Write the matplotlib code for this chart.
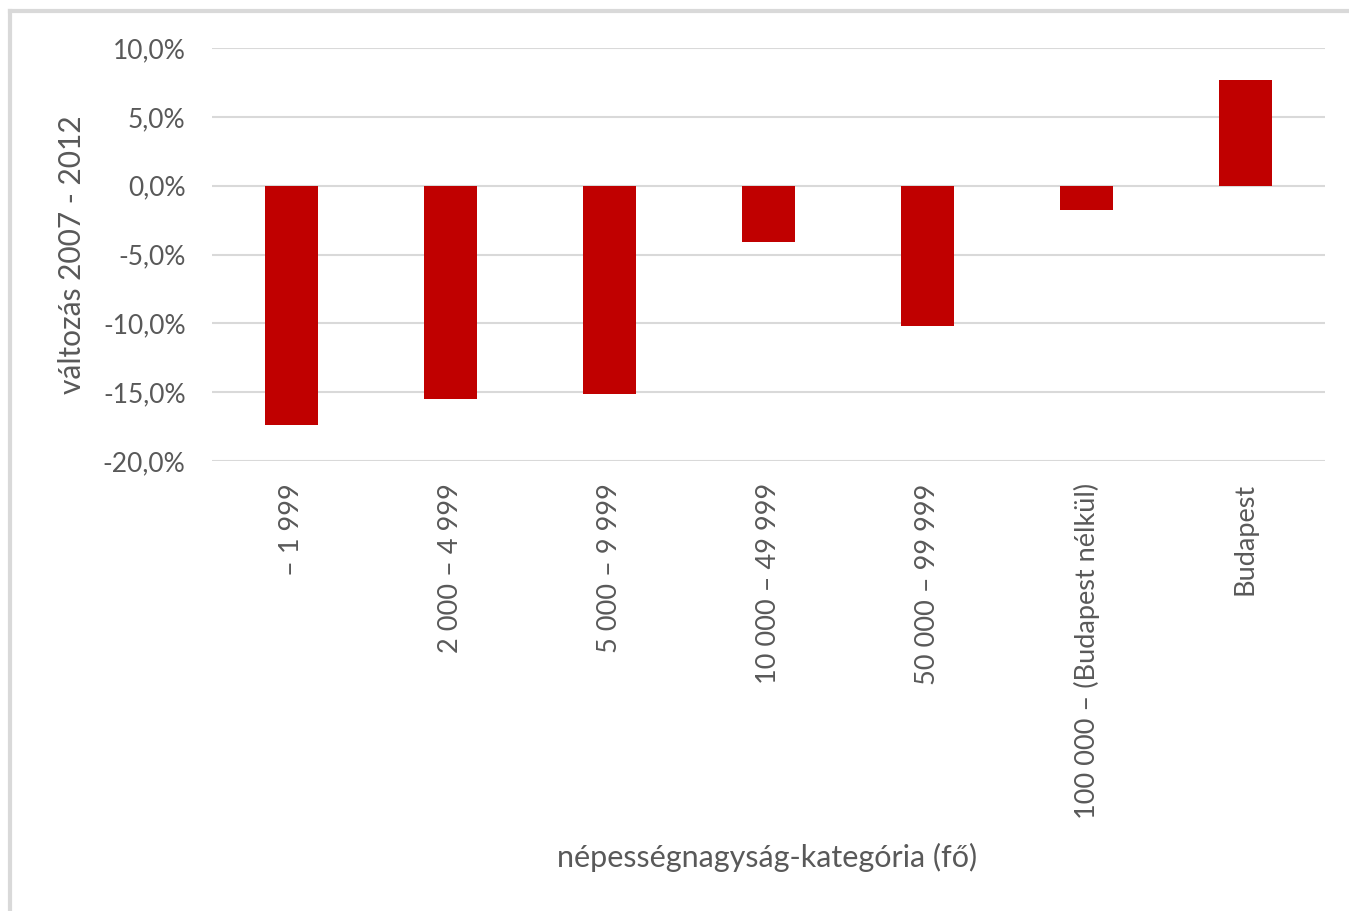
import matplotlib
matplotlib.use('Agg')
import matplotlib.pyplot as plt
from matplotlib.ticker import FuncFormatter
from matplotlib.lines import Line2D

plt.rcParams['font.family'] = ['Lato', 'DejaVu Sans']

# adatok
kategoriak = ['– 1 999', '2 000 – 4 999', '5 000 – 9 999', '10 000 – 49 999',
              '50 000 – 99 999', '100 000 – (Budapest nélkül)', 'Budapest']
valtozas = [-17.4, -15.5, -15.1, -4.1, -10.2, -1.8, 7.7]
y_ticks = [-20, -15, -10, -5, 0, 5, 10]

szoveg_szin = '#595959'
racs_szin = '#d9d9d9'

fig = plt.figure(figsize=(13.49, 9.11), dpi=100)
ax = fig.add_axes([212 / 1349, 1 - 461 / 911, (1325 - 212) / 1349, (461 - 48) / 911])

x = range(len(kategoriak))
ax.bar(x, valtozas, width=0.33, color='#C00000', zorder=3)

ax.set_xlim(-0.5, len(kategoriak) - 0.5)
ax.set_ylim(-20, 10)
ax.set_yticks(y_ticks)
ax.yaxis.set_major_formatter(FuncFormatter(lambda v, p: f'{v:.1f}%'.replace('.', ',')))
ax.grid(axis='y', color=racs_szin, linewidth=1.5, zorder=0)
ax.set_xticks(list(x))
ax.set_xticklabels(kategoriak, rotation=90, va='top', ha='center')
for s in ax.spines.values():
    s.set_visible(False)
ax.tick_params(axis='both', length=0, colors=szoveg_szin)
ax.tick_params(axis='x', pad=16, labelsize=19.5)
ax.tick_params(axis='y', pad=19, labelsize=19)

ax.set_ylabel('változás 2007 - 2012', fontsize=21.5, color=szoveg_szin)
ax.yaxis.set_label_coords(-0.113, 0.5)
fig.text(767 / 1349, 1 - 857 / 911, 'népességnagyság-kategória (fő)', fontsize=22,
         color=szoveg_szin, ha='center', va='center')

# halvány keret a kép bal és felső szélén
fig.add_artist(Line2D([10 / 1349, 10 / 1349], [0, 1 - 11 / 911], transform=fig.transFigure,
                      color='#d9d9d9', linewidth=3))
fig.add_artist(Line2D([10 / 1349, 1], [1 - 11 / 911, 1 - 11 / 911], transform=fig.transFigure,
                      color='#d9d9d9', linewidth=3))

fig.savefig('out.png', dpi=100)
